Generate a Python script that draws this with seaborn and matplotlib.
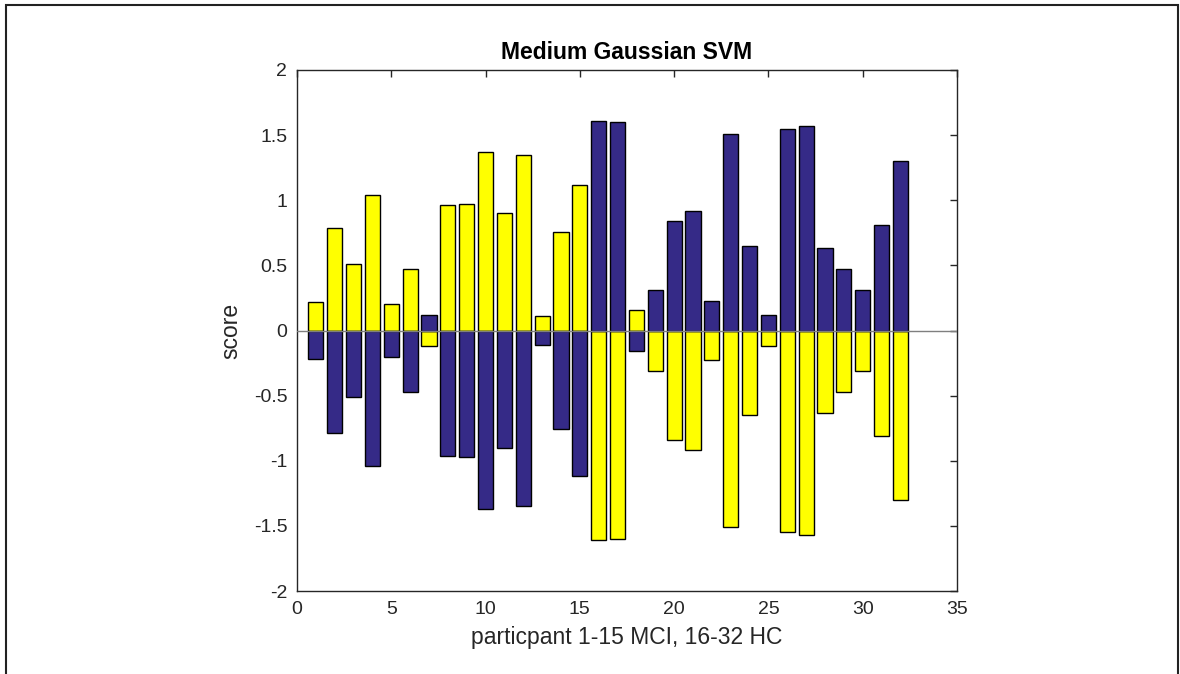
import matplotlib
matplotlib.use("Agg")
import matplotlib.pyplot as plt
import pandas as pd
import seaborn as sns
from matplotlib.patches import Rectangle

participant = list(range(1, 33))
# first bar series (yellow) and second bar series (navy)
yellow_score = [0.22, 0.79, 0.51, 1.04, 0.20, 0.47, -0.12, 0.96, 0.97, 1.37,
                0.90, 1.35, 0.11, 0.76, 1.12, -1.61, -1.60, 0.16, -0.31, -0.84,
                -0.92, -0.23, -1.51, -0.65, -0.12, -1.55, -1.57, -0.63, -0.47, -0.31,
                -0.81, -1.30]
navy_score = [-0.22, -0.79, -0.51, -1.04, -0.20, -0.47, 0.12, -0.96, -0.97, -1.37,
              -0.90, -1.35, -0.11, -0.76, -1.12, 1.61, 1.60, -0.16, 0.31, 0.84,
              0.92, 0.23, 1.51, 0.65, 0.12, 1.55, 1.57, 0.63, 0.47, 0.31,
              0.81, 1.30]
x_ticks = [0, 5, 10, 15, 20, 25, 30, 35]
y_ticks = [-2, -1.5, -1, -0.5, 0, 0.5, 1, 1.5, 2]

sns.set_style("white")
plt.rcParams['font.family'] = ['Liberation Sans', 'DejaVu Sans']
plt.rcParams['axes.unicode_minus'] = False

df = pd.DataFrame({'participant': participant,
                   'yellow': yellow_score,
                   'navy': navy_score})

fig = plt.figure(figsize=(11.8, 6.74), dpi=100)
ax = fig.add_axes([297/1180, 1-591/674, 660/1180, 521/674])

sns.barplot(data=df, x='participant', y='yellow', native_scale=True, width=0.8,
            color='#FFFF00', saturation=1, edgecolor='black', linewidth=1,
            errorbar=None, ax=ax)
sns.barplot(data=df, x='participant', y='navy', native_scale=True, width=0.8,
            color='#352A87', saturation=1, edgecolor='black', linewidth=1,
            errorbar=None, ax=ax)
ax.axhline(0, color='#7f7f7f', lw=1, zorder=5)

ax.set_xlim(0, 35)
ax.set_ylim(-2, 2)
ax.set_xticks(x_ticks)
ax.set_xticklabels([f"{t:g}" for t in x_ticks])
ax.set_yticks(y_ticks)
ax.set_yticklabels([f"{t:g}" for t in y_ticks])
ax.tick_params(direction='in', length=5, width=1, top=True, right=True,
               labelsize=14, color='#262626', labelcolor='#262626', pad=7)
for s in ax.spines.values():
    s.set_color('#262626')
    s.set_linewidth(1)

ax.set_title('Medium Gaussian SVM', fontsize=16.5, fontweight='bold', pad=8,
             color='black')
ax.set_xlabel('particpant 1-15 MCI, 16-32 HC', fontsize=16.5, color='#262626',
              labelpad=6)
ax.set_ylabel('score', fontsize=16.5, color='#262626', labelpad=8)

fig.add_artist(Rectangle((6/1180, -0.05), 1172/1180, 1.05 - 5/674,
                         transform=fig.transFigure, fill=False,
                         lw=1.5, edgecolor='#222222'))

fig.savefig('out.png', dpi=100)
